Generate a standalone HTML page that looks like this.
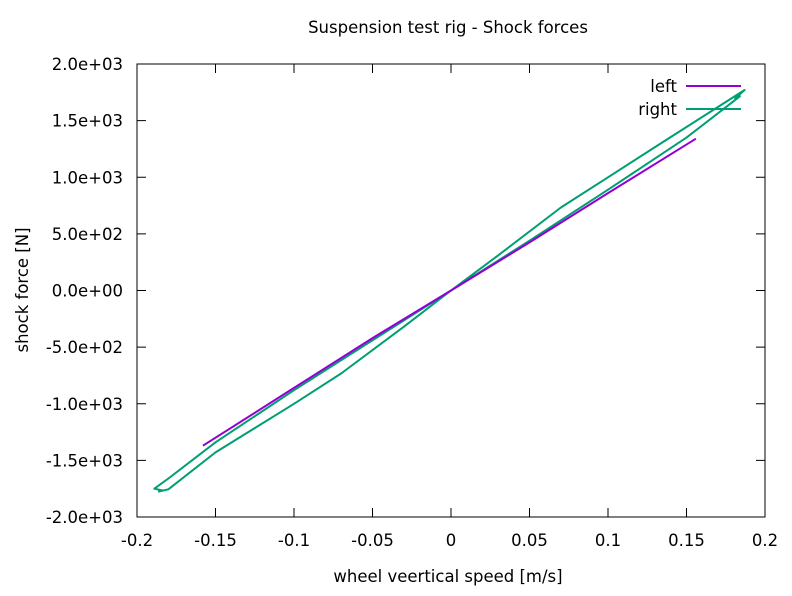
<!DOCTYPE html>
<html><head><meta charset="utf-8"><style>
body{margin:0;background:#fff}
svg text{font-family:"DejaVu Sans",sans-serif;font-size:16.5px;fill:#000}
</style></head><body>
<svg id="chart" width="792" height="591">
<text x="448" y="33" text-anchor="middle">Suspension test rig - Shock forces</text>
<rect x="137" y="64" width="628" height="453" fill="none" stroke="#000"/>
<g id="ticks"></g>
<g id="series"></g>
<text x="448" y="582" text-anchor="middle">wheel veertical speed [m/s]</text>
<text transform="translate(28,290) rotate(-90)" text-anchor="middle">shock force [N]</text>
<g>
<text x="677" y="92" text-anchor="end">left</text>
<line x1="686" y1="86" x2="741" y2="86" stroke="#9400d3" stroke-width="2"/>
<text x="677" y="115" text-anchor="end">right</text>
<line x1="686" y1="109" x2="741" y2="109" stroke="#009e73" stroke-width="2"/>
</g>
</svg>
<script>
const xTicks=[-0.2,-0.15,-0.1,-0.05,0,0.05,0.1,0.15,0.2];
const xTickLabels=["-0.2","-0.15","-0.1","-0.05","0","0.05","0.1","0.15","0.2"];
const yTicks=[-2000,-1500,-1000,-500,0,500,1000,1500,2000];
const yTickLabels=["-2.0e+03","-1.5e+03","-1.0e+03","-5.0e+02","0.0e+00","5.0e+02","1.0e+03","1.5e+03","2.0e+03"];
const leftSpeed=[-0.158,-0.1,-0.05,0,0.05,0.1,0.156];
const leftForce=[-1370,-860,-420,0,425,860,1340];
const rightSpeed=[0,0.03,0.07,0.1,0.14,0.187,0.181,0.184,0.15,0.1,0.05,0,-0.05,-0.1,-0.15,-0.18,-0.189,-0.184,-0.186,-0.18,-0.15,-0.1,-0.07,-0.03,0];
const rightForce=[0,310,733,1000,1355,1770,1695,1715,1350,890,440,0,-440,-880,-1340,-1660,-1750,-1765,-1775,-1755,-1430,-1000,-733,-320,0];
const X0=137,X1=765,Y0=517,Y1=64;
const xs=v=>X0+(v+0.2)/0.4*(X1-X0);
const ys=f=>Y0-(f+2000)/4000*(Y0-Y1);
const NS="http://www.w3.org/2000/svg";
const tg=document.getElementById('ticks');
function mk(tag,attrs,parent){const e=document.createElementNS(NS,tag);for(const k in attrs)e.setAttribute(k,attrs[k]);parent.appendChild(e);return e;}
xTicks.forEach((v,i)=>{const x=xs(v);
const t1=mk('line',{x1:x,y1:Y0,x2:x,y2:Y0-9,stroke:'#000'},tg);


const t2=mk('line',{x1:x,y1:Y1,x2:x,y2:Y1+9,stroke:'#000'},tg);


const tx=mk('text',{x:x,y:Y0+29,'text-anchor':'middle'},tg);tx.textContent=xTickLabels[i];


});
yTicks.forEach((f,i)=>{const y=ys(f);
const t1=mk('line',{x1:X0,y1:y,x2:X0+9,y2:y,stroke:'#000'},tg);


const t2=mk('line',{x1:X1,y1:y,x2:X1-9,y2:y,stroke:'#000'},tg);


const tx=mk('text',{x:X0-14,y:y+6,'text-anchor':'end'},tg);tx.textContent=yTickLabels[i];


});
const sg=document.getElementById('series');
function pts(a,b){return a.map((v,i)=>xs(v).toFixed(1)+','+ys(b[i]).toFixed(1)).join(' ');}
const pr=mk('polyline',{points:pts(rightSpeed,rightForce),fill:'none',stroke:'#009e73','stroke-width':2,'stroke-linejoin':'round'},sg);


const pl=mk('polyline',{points:pts(leftSpeed,leftForce),fill:'none',stroke:'#9400d3','stroke-width':2},sg);


</script>
</body></html>
